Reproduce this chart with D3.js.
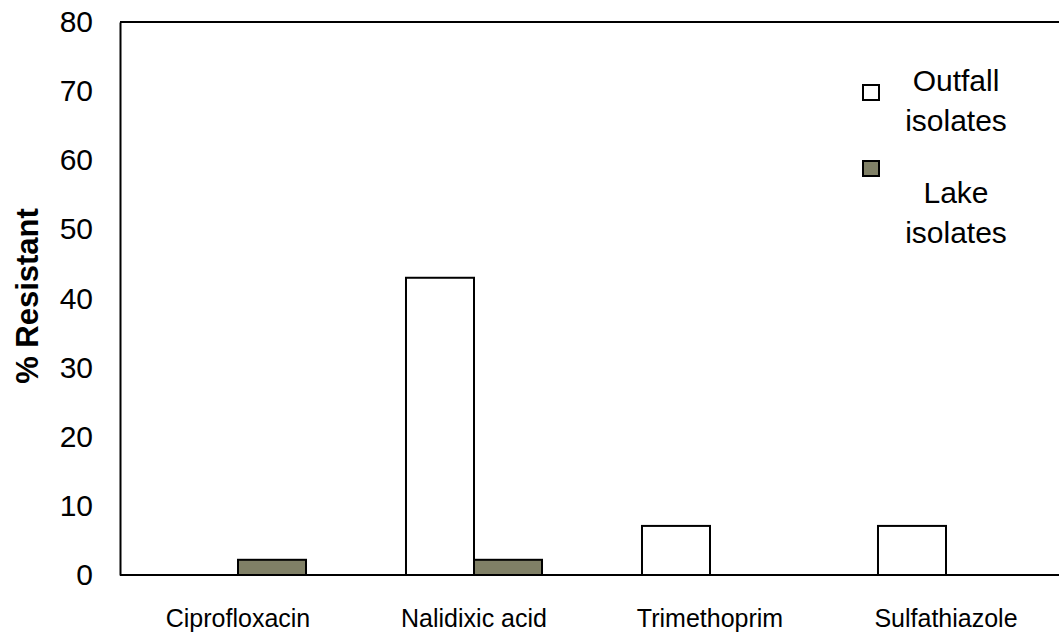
<!DOCTYPE html>
<html>
<head>
<meta charset="utf-8">
<script src="https://cdn.jsdelivr.net/npm/d3@7"></script>
<style>
    body { margin: 0; background: #fff; }
    svg { display: block; font-family: "Liberation Sans", Arial, sans-serif; }
</style>
</head>
<body>
<svg id="chart" width="1059" height="637"></svg>
<script>
// Data
const categories = ["Ciprofloxacin", "Nalidixic acid", "Trimethoprim", "Sulfathiazole"];
const seriesNames = ["Outfall isolates", "Lake isolates"];
const outfall = [0, 43, 7.1, 7.1];
const lake = [2.2, 2.2, 0, 0];
const yTicks = [0, 10, 20, 30, 40, 50, 60, 70, 80];

const colors = ["#ffffff", "#808066"];

const svg = d3.select("#chart");

const plotLeft = 120, plotTop = 22, plotRight = 1064, plotBottom = 575;

const x = d3.scaleBand()
    .domain(categories)
    .range([plotLeft, plotRight])
    .paddingInner(0)
    .paddingOuter(0);

const inner = d3.scaleBand()
    .domain(seriesNames)
    .range([0, x.bandwidth()])
    .paddingOuter(0.735)
    .paddingInner(0);

const y = d3.scaleLinear()
    .domain([0, 80])
    .range([plotBottom, plotTop]);

// frame: top line
svg.append("line")
    .attr("x1", plotLeft).attr("x2", plotRight)
    .attr("y1", y(80)).attr("y2", y(80))
    .attr("stroke", "#000").attr("stroke-width", 2);

// y axis
const yAxis = svg.append("g")
    .attr("transform", `translate(${plotLeft},0)`)
    .call(d3.axisLeft(y).tickValues(yTicks).tickSize(0).tickPadding(27));
yAxis.select(".domain").attr("stroke", "#000").attr("stroke-width", 2);
yAxis.selectAll("text")
    .attr("font-size", 30)
    .attr("fill", "#000")
    .style("font-family", "Liberation Sans, Arial, sans-serif");

// bars
const data = categories.map((c, i) => ({ cat: c, values: [outfall[i], lake[i]] }));

const groups = svg.selectAll(".grp")
    .data(data)
    .enter()
    .append("g")
    .attr("transform", d => `translate(${x(d.cat)},0)`);

groups.selectAll("rect")
    .data(d => d.values.map((v, j) => ({ s: seriesNames[j], v: v, j: j })).filter(e => e.v > 0))
    .enter()
    .append("rect")
    .attr("x", e => inner(e.s))
    .attr("y", e => y(e.v))
    .attr("width", inner.bandwidth())
    .attr("height", e => y(0) - y(e.v))
    .attr("fill", e => colors[e.j])
    .attr("stroke", "#000")
    .attr("stroke-width", 2);

// x axis line
svg.append("line")
    .attr("x1", plotLeft).attr("x2", plotRight)
    .attr("y1", y(0)).attr("y2", y(0))
    .attr("stroke", "#000").attr("stroke-width", 2);

// category labels
svg.selectAll(".cat")
    .data(categories)
    .enter()
    .append("text")
    .attr("x", d => x(d) + x.bandwidth() / 2)
    .attr("y", 627)
    .attr("text-anchor", "middle")
    .attr("font-size", 25)
    .attr("fill", "#000")
    .text(d => d);

// y axis title
svg.append("text")
    .attr("transform", "translate(38,296) rotate(-90)")
    .attr("text-anchor", "middle")
    .attr("font-size", 31)
    .attr("font-weight", "bold")
    .attr("fill", "#000")
    .text("% Resistant");

// legend
const legend = svg.append("g").attr("transform", "translate(863,0)");
const legendItems = [
    { box: 85, lines: [["Outfall", 91], ["isolates", 131]] },
    { box: 161, lines: [["Lake", 203], ["isolates", 243]] }
];
legendItems.forEach((item, i) => {
    legend.append("rect")
        .attr("x", 0).attr("y", item.box)
        .attr("width", 16).attr("height", 15)
        .attr("fill", colors[i])
        .attr("stroke", "#000")
        .attr("stroke-width", 2);
    item.lines.forEach(l => {
        legend.append("text")
            .attr("x", 93)
            .attr("y", l[1])
            .attr("text-anchor", "middle")
            .attr("font-size", 30)
            .attr("fill", "#000")
            .text(l[0]);
    });
});
</script>
</body>
</html>
